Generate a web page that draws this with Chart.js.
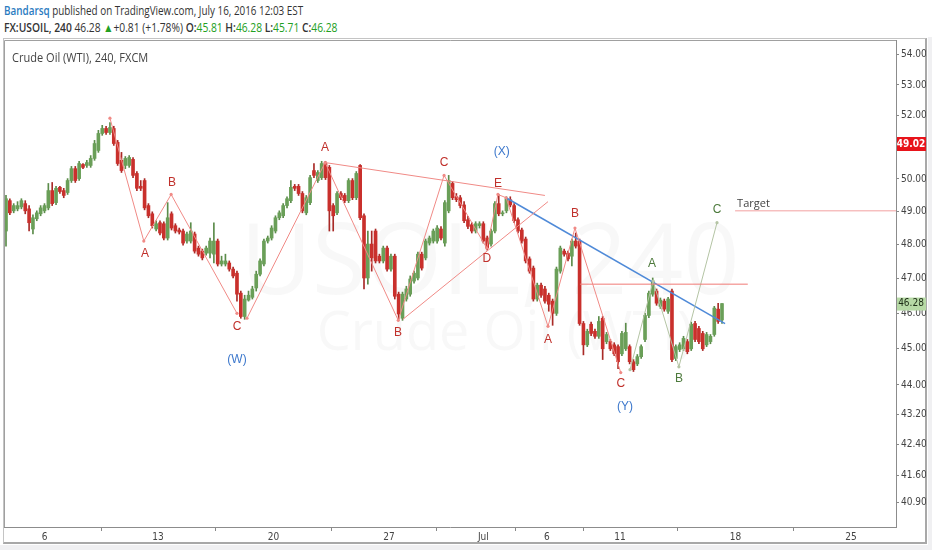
<!DOCTYPE html>
<html>
<head>
<meta charset="utf-8">
<script src="https://cdn.jsdelivr.net/npm/chart.js@4.4.0/dist/chart.umd.min.js"></script>
<style>
html, body { margin: 0; padding: 0; background: #fff; }
#wrap { position: relative; width: 932px; height: 550px; overflow: hidden; background: #fff; }
#strip { position: absolute; left: 0; top: 545px; width: 932px; height: 5px; background: #f0f0f2; }
#side { position: absolute; left: 928px; top: 37px; width: 4px; height: 513px; background: #f0f0f2; }
#frame { position: absolute; left: 3px; top: 38px; width: 921px; height: 503px;
  border: 1px solid #c4c4c4; border-right: 2px solid #a8a8a8; border-bottom: 2px solid #a8a8a8; }
.hd { position: absolute; left: 4px; white-space: nowrap; font-family: "Open Sans", sans-serif; color: #333; transform-origin: 0 0; }
#h1 { top: 2px; font-size: 12.5px; transform: scaleX(0.79); }
#h2 { top: 19px; font-size: 12px; transform: scaleX(0.855); }
#h1 b { color: #2b7bbf; font-weight: 600; }
#h2 .g { color: #22a022; }
#h2 .k { font-weight: 600; }
#title { position: absolute; left: 12px; top: 49px; font: 12px "Open Sans", sans-serif; color: #444; transform: scaleX(0.92); transform-origin: 0 0; }
canvas { position: absolute; left: 0; top: 0; }
</style>
</head>
<body>
<div id="wrap">
  <div id="strip"></div>
  <div id="side"></div>
  <div id="frame"></div>
  <div class="hd" id="h1"><b>Bandarsq</b> published on TradingView.com, July 16, 2016 12:03 EST</div>
  <div class="hd" id="h2"><span class="k">FX:USOIL, 240</span> 46.28 <span class="g">&#9650;</span>+0.81 (+1.78%) <span class="k">O:</span><span class="g">45.81</span> <span class="k">H:</span><span class="g">46.28</span> <span class="k">L:</span><span class="g">45.71</span> <span class="k">C:</span><span class="g">46.28</span></div>
  <canvas id="c" width="932" height="550"></canvas>
  <div id="title">Crude Oil (WTI), 240, FXCM</div>
</div>
<script>
'use strict';
// ---- 4h candles (USOIL, FXCM), oldest first ----
var opens = [
  48.41, 49.33, 49.02, 49.08, 49.14, 49.24, 49.08, 48.47, 48.78, 48.93,
  49.02, 49.11, 49.64, 49.27, 49.74, 49.64, 49.58, 49.95, 50.32, 50.01,
  50.45, 50.42, 50.42, 50.64, 50.89, 51.43, 51.59, 51.46, 51.59, 51.15,
  50.58, 50.42, 50.42, 50.61, 50.17, 49.77, 49.95, 49.18, 48.93, 48.47,
  48.66, 48.63, 48.20, 48.93, 48.57, 48.44, 48.41, 48.11, 48.11, 48.32,
  47.90, 47.81, 47.75, 47.75, 47.72, 48.11, 47.43, 47.43, 47.46, 47.28,
  47.16, 46.58, 45.91, 46.38, 46.46, 46.73, 47.13, 47.43, 48.11, 48.20,
  48.41, 48.81, 48.87, 49.18, 49.33, 49.77, 49.77, 49.55, 48.96, 49.27,
  50.26, 49.95, 50.04, 50.48, 50.36, 49.18, 48.96, 49.55, 49.49, 49.33,
  49.95, 49.42, 50.42, 48.87, 47.02, 48.02, 48.41, 47.66, 47.52, 47.90,
  47.28, 47.66, 46.55, 45.86, 46.41, 46.55, 46.93, 47.02, 47.72, 47.61,
  48.05, 48.11, 48.11, 48.47, 48.05, 49.02, 49.86, 49.45, 49.42, 49.20,
  48.75, 48.60, 48.41, 48.57, 48.63, 48.20, 48.02, 48.41, 49.24, 48.93,
  49.02, 49.36, 49.18, 48.75, 48.44, 48.17, 47.58, 47.31, 46.41, 46.81,
  46.70, 46.52, 46.35, 46.00, 47.22, 47.81, 47.75, 47.66, 48.11, 48.11,
  45.71, 45.11, 45.69, 45.49, 45.35, 45.86, 45.20, 45.20, 45.11, 45.06,
  44.86, 45.00, 45.06, 44.64, 44.58, 44.78, 45.26, 45.94, 46.55, 46.64,
  46.20, 46.35, 46.06, 46.64, 44.73, 44.98, 45.00, 45.20, 45.00, 45.71,
  45.57, 45.43, 45.11, 45.20, 45.40, 46.12, 45.81
];
var highs = [
  49.49, 49.39, 49.24, 49.30, 49.39, 49.33, 49.18, 48.90, 49.02, 49.18,
  49.24, 49.86, 49.89, 49.77, 49.77, 49.71, 50.01, 50.39, 50.39, 50.55,
  50.48, 50.58, 50.73, 51.21, 51.53, 51.69, 51.66, 51.78, 51.66, 51.21,
  50.83, 50.70, 50.73, 50.67, 50.23, 49.95, 50.01, 49.24, 48.99, 48.72,
  48.72, 48.69, 49.27, 48.99, 48.63, 48.50, 48.47, 48.38, 48.66, 48.38,
  47.96, 47.87, 47.96, 48.20, 48.66, 48.17, 47.66, 47.72, 47.52, 47.34,
  47.22, 46.64, 46.52, 46.64, 46.78, 47.22, 47.58, 48.17, 48.26, 48.57,
  48.87, 49.02, 49.24, 49.45, 49.95, 49.83, 49.83, 49.61, 49.49, 50.11,
  50.48, 50.26, 50.55, 50.55, 50.42, 49.24, 49.61, 49.61, 49.55, 50.01,
  50.01, 50.23, 50.45, 48.93, 48.41, 48.41, 48.47, 47.72, 47.96, 47.96,
  47.72, 47.72, 46.61, 46.61, 46.78, 47.08, 47.22, 47.78, 47.78, 48.17,
  48.26, 48.47, 48.57, 48.54, 49.33, 50.11, 49.92, 49.55, 49.49, 49.30,
  48.85, 48.66, 48.69, 48.69, 48.69, 48.26, 48.47, 49.30, 49.52, 49.02,
  49.45, 49.45, 49.24, 48.81, 48.50, 48.23, 47.64, 47.37, 46.87, 46.87,
  46.78, 46.58, 46.41, 47.34, 47.96, 47.87, 47.81, 48.17, 48.35, 48.17,
  45.77, 45.55, 45.75, 45.55, 45.91, 45.91, 45.46, 45.26, 45.17, 45.11,
  45.49, 45.72, 45.11, 44.70, 44.84, 45.11, 46.00, 46.64, 47.02, 46.70,
  46.44, 46.41, 46.46, 46.70, 45.11, 45.17, 45.35, 45.26, 45.75, 45.77,
  45.63, 45.49, 45.46, 45.40, 46.20, 46.29, 46.28
];
var lows = [
  47.96, 48.90, 48.96, 49.02, 49.08, 48.93, 48.41, 48.32, 48.72, 48.87,
  48.96, 49.05, 49.18, 49.21, 49.55, 49.42, 49.52, 49.89, 49.89, 49.95,
  50.32, 50.36, 50.36, 50.58, 50.83, 51.37, 51.40, 51.40, 51.05, 50.42,
  50.20, 50.32, 50.36, 50.04, 49.64, 49.64, 49.05, 48.81, 48.50, 48.41,
  48.29, 48.14, 48.14, 48.44, 48.35, 48.32, 47.99, 48.05, 48.05, 47.75,
  47.66, 47.55, 47.69, 47.61, 47.46, 47.37, 47.37, 47.37, 47.22, 47.02,
  46.35, 45.86, 45.83, 46.35, 46.41, 46.64, 47.08, 47.37, 48.05, 48.14,
  48.35, 48.75, 48.81, 49.11, 49.27, 49.64, 49.49, 48.96, 48.90, 49.21,
  50.04, 49.89, 49.98, 49.98, 48.41, 48.41, 48.90, 49.36, 49.27, 49.27,
  49.36, 49.36, 48.75, 46.70, 46.84, 47.22, 47.46, 47.46, 47.46, 47.22,
  47.22, 46.41, 45.83, 45.80, 46.35, 46.49, 46.87, 46.96, 47.25, 47.55,
  47.99, 48.05, 48.05, 48.14, 47.96, 48.96, 49.36, 49.30, 49.11, 48.66,
  48.48, 48.35, 48.35, 48.50, 48.05, 47.84, 47.96, 48.35, 48.87, 48.87,
  48.96, 49.14, 48.66, 48.35, 48.05, 47.46, 47.16, 46.35, 46.35, 46.46,
  46.29, 46.06, 45.66, 45.94, 47.16, 47.66, 47.52, 47.37, 47.90, 45.66,
  44.83, 45.06, 45.37, 45.29, 45.29, 44.70, 45.14, 44.95, 44.81, 44.45,
  44.81, 44.95, 44.58, 44.37, 44.53, 44.73, 45.20, 45.88, 46.49, 46.23,
  46.14, 46.06, 46.00, 44.64, 44.67, 44.92, 44.95, 44.86, 44.95, 45.20,
  45.14, 44.95, 45.06, 45.14, 45.35, 45.71, 45.71
];
var closes = [
  49.39, 48.96, 49.18, 49.18, 49.33, 49.02, 48.66, 48.81, 48.96, 49.11,
  49.18, 49.64, 49.24, 49.71, 49.61, 49.49, 49.95, 50.32, 49.95, 50.48,
  50.36, 50.51, 50.64, 51.11, 51.43, 51.59, 51.46, 51.62, 51.11, 50.48,
  50.26, 50.64, 50.67, 50.11, 49.71, 49.71, 49.11, 48.87, 48.57, 48.63,
  48.35, 48.20, 48.81, 48.50, 48.41, 48.38, 48.05, 48.32, 48.41, 47.81,
  47.72, 47.61, 47.90, 48.11, 48.11, 47.43, 47.52, 47.52, 47.28, 47.08,
  46.55, 45.91, 46.41, 46.52, 46.70, 47.13, 47.52, 48.11, 48.20, 48.50,
  48.81, 48.96, 49.18, 49.39, 49.74, 49.71, 49.55, 49.02, 49.42, 50.04,
  50.11, 50.20, 50.48, 50.04, 49.02, 48.87, 49.55, 49.42, 49.33, 49.95,
  49.42, 50.17, 48.81, 47.02, 48.02, 47.61, 47.52, 47.52, 47.90, 47.28,
  47.66, 46.49, 45.98, 46.55, 46.70, 46.99, 47.16, 47.72, 47.31, 48.11,
  48.20, 48.41, 48.50, 48.20, 49.27, 49.95, 49.42, 49.36, 49.18, 48.72,
  48.55, 48.41, 48.63, 48.63, 48.11, 47.90, 48.41, 49.24, 48.93, 48.96,
  49.39, 49.20, 48.72, 48.41, 48.11, 47.52, 47.22, 46.41, 46.81, 46.52,
  46.35, 46.26, 46.00, 47.28, 47.90, 47.72, 47.58, 48.11, 47.96, 45.71,
  45.11, 45.49, 45.43, 45.35, 45.77, 45.00, 45.40, 45.00, 44.86, 44.64,
  45.43, 45.46, 44.64, 44.42, 44.78, 45.06, 45.94, 46.58, 46.93, 46.29,
  46.38, 46.12, 46.41, 44.70, 45.06, 45.11, 45.29, 44.92, 45.69, 45.26,
  45.20, 45.00, 45.40, 45.35, 46.15, 45.77, 46.28
];

// ---- axes (bar index on x, price on y) ----
var xTickPos = [10, 39.5, 69.5, 99.5, 124, 140.5, 159.5, 189.5, 219.5];
var xTickLabels = ['6', '13', '20', '27', 'Jul', '6', '11', '18', '25'];
var yTickVals = [40.9, 41.6, 42.4, 43.2, 44, 45, 46, 47, 48, 49, 50, 51, 52, 53, 54];
var xMin = -0.52, xMax = 231.2;
var yMin = 40.29, yMax = 54.50;

// ---- drawn wave lines, [bar index, price] ----
var waveW = [[27.0, 51.92], [35.8, 48.11], [42.9, 49.52], [60.0, 46.00]];
var waveXY = [[62.6, 45.86], [82.9, 50.51], [101.9, 45.80], [113.8, 50.11], [124.9, 47.90],
  [127.8, 49.52], [129.9, 49.42], [140.8, 45.63], [147.8, 48.50], [159.7, 44.34]];
var triUpper = [[82.9, 50.51], [140.0, 49.49]];
var triLower = [[103.1, 45.83], [140.8, 49.30]];
var blueTrend = [[129.9, 49.42], [186.8, 45.71]];
var level = [[149.1, 46.84], [192.7, 46.84]];
var waveNext = [[162.1, 44.42], [168.1, 46.93], [174.8, 44.50], [184.7, 48.66]];
var target = [[189.4, 49.02], [231.2, 49.02]];

// ---- wave labels: text, bar index, price, kind ----
var waveLabels = [
  ['A', 36.1, 47.72, 'r'], ['B', 43.1, 49.89, 'r'], ['C', 60.0, 45.63, 'r'],
  ['A', 82.9, 50.99, 'r'], ['B', 101.8, 45.46, 'r'], ['C', 113.8, 50.51, 'r'],
  ['D', 124.9, 47.58, 'r'], ['E', 127.8, 49.86, 'r'], ['A', 140.8, 45.26, 'r'],
  ['B', 147.8, 48.93, 'r'], ['C', 159.7, 44.03, 'r'],
  ['(W)', 60.0, 44.70, 'b'], ['(X)', 128.8, 50.86, 'b'], ['(Y)', 160.8, 43.40, 'b'],
  ['A', 167.8, 47.43, 'g'], ['B', 174.8, 44.17, 'g'], ['C', 184.7, 49.05, 'g']
];

var UP = '#6a9f58', DOWN = '#c9302c';
var labelColor = { r: '#c0302b', b: '#3d78cc', g: '#4d7a3c' };
var axisFont = { family: '"Liberation Sans Narrow", "DejaVu Sans Condensed", Arial, sans-serif', size: 10 };

var bodies = [], wicks = [], cols = [], wickCols = [];
for (var i = 0; i < closes.length; i++) {
  bodies.push({ x: i, y: [opens[i], closes[i]] });
  wicks.push({ x: i, y: [lows[i], highs[i]] });
  var up = closes[i] >= opens[i];
  cols.push(up ? UP : DOWN);
  wickCols.push(up ? '#5b8c4a' : '#a92a27');
}

function pts(a) { return a.map(function(p) { return { x: p[0], y: p[1] }; }); }
function lineDs(a, color, w, dots) {
  return { type: 'line', data: pts(a), borderColor: color, borderWidth: w, tension: 0, fill: false,
    pointRadius: dots ? 1.6 : 0, pointBackgroundColor: color, pointBorderWidth: 0, order: -1 };
}

var pane = {
  id: 'pane',
  beforeDatasetsDraw: function(chart) {
    var c = chart.ctx, a = chart.chartArea;
    c.save();
    c.beginPath(); c.rect(a.left, a.top, a.right - a.left, a.bottom - a.top); c.clip();
    c.fillStyle = 'rgba(110,110,110,0.05)';
    c.textAlign = 'center'; c.textBaseline = 'alphabetic';
    c.font = '98px "Open Sans", sans-serif';
    c.fillText('USOIL, 240', 490, 294);
    c.font = '54px "Open Sans", sans-serif';
    c.fillText('Crude Oil (WTI)', 505, 350);
    c.restore();
  },
  afterDatasetsDraw: function(chart) {
    var c = chart.ctx, a = chart.chartArea, sx = chart.scales.x, sy = chart.scales.y;
    c.save();
    c.strokeStyle = '#a0a0a0'; c.lineWidth = 1;
    c.beginPath();
    c.moveTo(a.left + 0.5, a.bottom); c.lineTo(a.left + 0.5, a.top + 0.5); c.lineTo(a.right, a.top + 0.5);
    c.stroke();
    c.textAlign = 'center'; c.textBaseline = 'middle';
    c.font = '12px "Liberation Sans", Arial, sans-serif';
    waveLabels.forEach(function(l) {
      c.fillStyle = labelColor[l[3]];
      c.fillText(l[0], sx.getPixelForValue(l[1]), sy.getPixelForValue(l[2]));
    });
    c.fillStyle = '#444'; c.textAlign = 'left'; c.font = '11px "Open Sans", sans-serif';
    c.fillText('Target', sx.getPixelForValue(target[0][0]) + 2, sy.getPixelForValue(target[0][1]) - 7);
    // price boxes on the axis
    c.textAlign = 'center';
    c.font = 'bold 10px "Liberation Sans Narrow", "DejaVu Sans Condensed", Arial, sans-serif';
    var yr = sy.getPixelForValue(51.0) - 3;
    c.fillStyle = '#e8141b'; c.fillRect(a.right + 1, yr - 7, 29, 14);
    c.fillStyle = '#fff'; c.fillText('49.02', a.right + 15, yr);
    var yg = sy.getPixelForValue(closes[closes.length - 1]);
    c.fillStyle = '#b7daa6'; c.fillRect(a.right + 1, yg - 6, 29, 13);
    c.fillStyle = '#1d2d16'; c.font = '10px "Liberation Sans Narrow", "DejaVu Sans Condensed", Arial, sans-serif';
    c.fillText('46.28', a.right + 15, yg);
    c.restore();
  }
};

var chart = new Chart(document.getElementById('c'), {
  type: 'bar',
  data: {
    datasets: [
      { data: wicks, backgroundColor: wickCols, barThickness: 1, grouped: false, order: 2 },
      { data: bodies, backgroundColor: cols, barThickness: 3, grouped: false, minBarLength: 1, order: 1 },
      lineDs(waveW, '#f08a86', 1, true),
      lineDs(waveXY, '#f08a86', 1, true),
      lineDs(triUpper, '#f08a86', 1, false),
      lineDs(triLower, '#f08a86', 1, false),
      lineDs(level, '#f07a76', 1, false),
      lineDs(waveNext, '#b4c4a4', 1, true),
      lineDs(blueTrend, '#4f8ad8', 1.5, false),
      lineDs(target, '#f2a0a0', 1, false)
    ]
  },
  options: {
    responsive: false,
    animation: false,
    layout: { padding: { left: 4, top: 40, right: 6, bottom: 7 } },
    plugins: { legend: { display: false }, tooltip: { enabled: false } },
    scales: {
      x: {
        type: 'linear', min: xMin, max: xMax, offset: false,
        grid: { drawOnChartArea: false, drawTicks: true, tickLength: 4, color: '#888' },
        border: { display: true, color: '#8c8c8c' },
        afterBuildTicks: function(s) { s.ticks = xTickPos.map(function(v) { return { value: v }; }); },
        afterFit: function(s) { s.height = 16; },
        ticks: {
          autoSkip: false, maxRotation: 0, padding: 0, color: '#444', font: axisFont,
          callback: function(v, i) { return xTickLabels[i]; }
        }
      },
      y: {
        type: 'logarithmic', position: 'right', min: yMin, max: yMax,
        grid: { drawOnChartArea: false, drawTicks: true, tickLength: 3, color: '#888' },
        border: { display: true, color: '#8c8c8c' },
        afterBuildTicks: function(s) { s.ticks = yTickVals.map(function(v) { return { value: v }; }); },
        afterFit: function(s) { s.width = 30; },
        ticks: {
          padding: 2, color: '#444', font: axisFont,
          callback: function(v) { return Number(v).toFixed(2); }
        }
      }
    }
  },
  plugins: [pane]
});
</script>
</body>
</html>
